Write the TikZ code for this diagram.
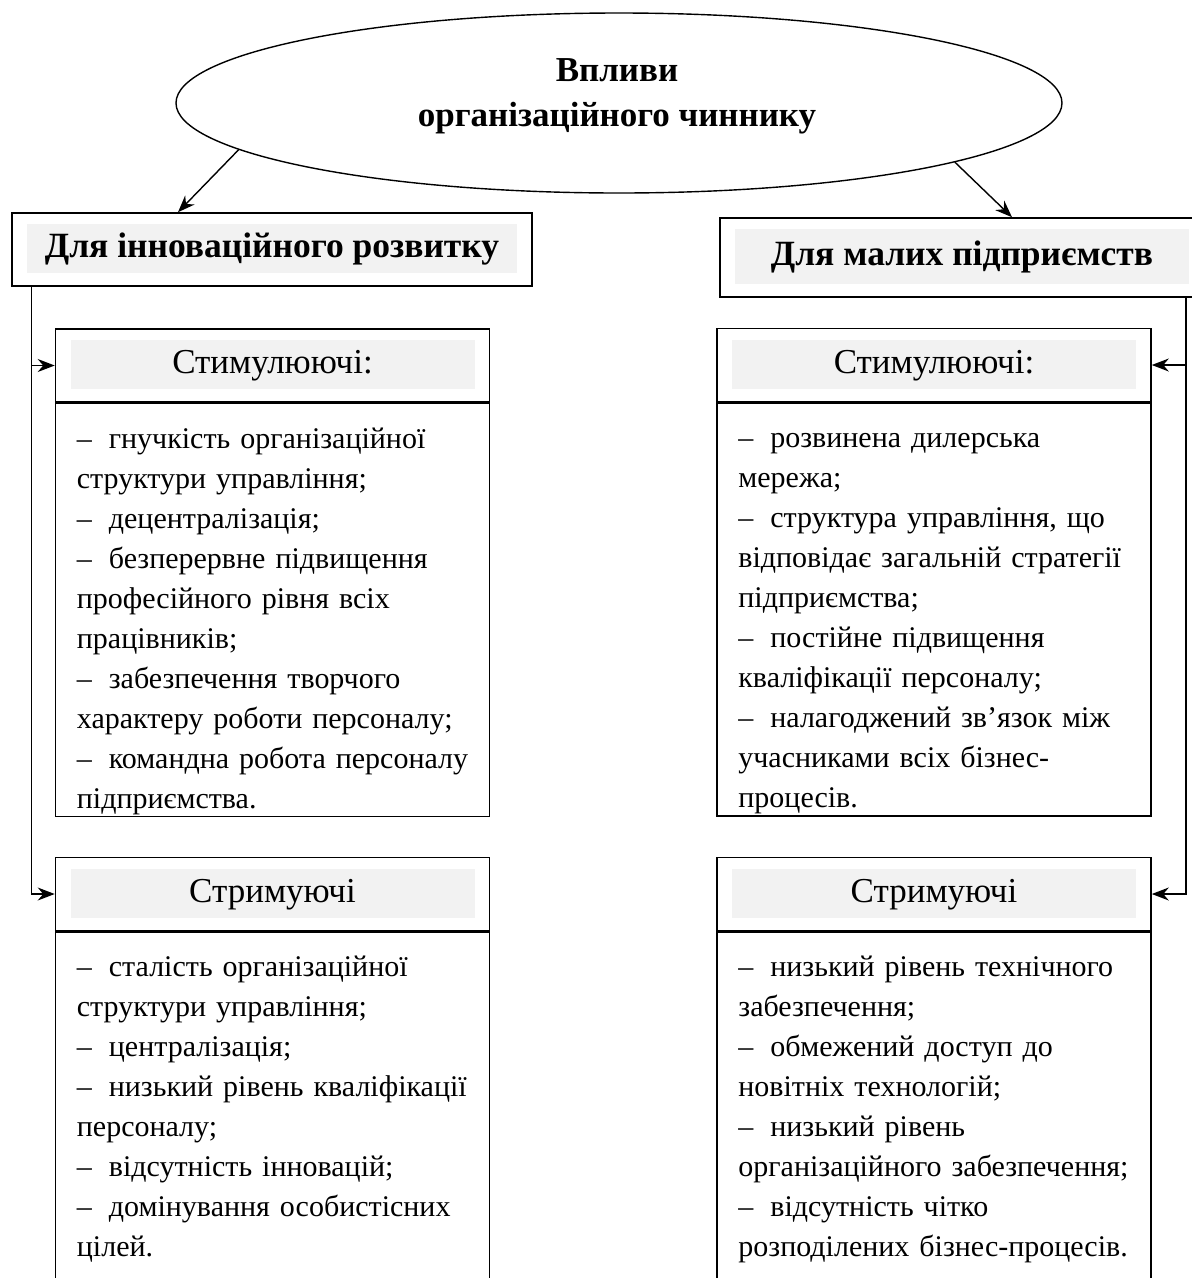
\documentclass[tikz,border=0pt]{standalone}
\usepackage{fontspec}
\setmainfont{Liberation Serif}
\usetikzlibrary{positioning,shapes.geometric,arrows.meta}

\tikzstyle{ramka} = [draw, line width=1.6pt, inner sep=0pt]
\tikzstyle{sirist} = [path picture={\fill[gray!10] ([shift={(15pt,-11pt)}]path picture bounding box.north west) rectangle ([shift={(-15pt,13pt)}]path picture bounding box.south east);}]
\tikzstyle{grupa} = [ramka, sirist, font=\bfseries\fontsize{35.5}{40}\selectfont]
\tikzstyle{vyd} = [ramka, sirist, minimum width=434pt, minimum height=73pt, font=\fontsize{35}{40}\selectfont]
\tikzstyle{spysok} = [anchor=north west, inner xsep=22pt, inner ysep=17pt, text width=440pt, align=left, font=\fontsize{30}{40}\selectfont]
\tikzstyle{strilka} = [line width=1.4pt, arrows={-Stealth[length=17pt,width=13pt]}]
\newcommand{\tyre}{\strut–\hspace{17pt}}

\begin{document}
\begin{tikzpicture}[x=1pt,y=-1pt]
    \useasboundingbox (0,0) rectangle (1192,1278);

    % Vplyvy
    \node[ellipse, draw, line width=1.4pt, minimum width=886pt, minimum height=180pt] (vplyvy) at (619,103) {};
    \node[align=center, font=\bfseries\fontsize{35}{45}\selectfont] (napys) at (617,96) {Впливи\\організаційного чиннику};

    % Grupy
    \node[grupa, minimum width=520pt, minimum height=73pt] (hdrL) at (272,249.5) {\strut Для інноваційного розвитку};
    \node[grupa, minimum width=484pt, minimum height=79pt] (hdrR) at (962,257.5) {\strut Для малих підприємств};

    % Liva storona
    \node[vyd] (stimL) at (272.5,365.5) {\strut Стимулюючі:};
    \node[ramka, minimum width=434pt, minimum height=413pt, below=0pt of stimL] (ramkaL1) {};
    \node[spysok] (spysokL1) at (ramkaL1.north west) {\tyre гнучкість організаційної\\структури управління;\\–\hspace{17pt}децентралізація;\\–\hspace{17pt}безперервне підвищення\\професійного рівня всіх\\працівників;\\–\hspace{17pt}забезпечення творчого\\характеру роботи персоналу;\\–\hspace{17pt}командна робота персоналу\\підприємства.};
    \node[vyd] (strL) at (272.5,894) {\strut Стримуючі};
    \node[ramka, minimum width=434pt, minimum height=347pt, below=0pt of strL] (ramkaL2) {};
    \node[spysok] (spysokL2) at (ramkaL2.north west) {\tyre сталість організаційної\\структури управління;\\–\hspace{17pt}централізація;\\–\hspace{17pt}низький рівень кваліфікації\\персоналу;\\–\hspace{17pt}відсутність інновацій;\\–\hspace{17pt}домінування особистісних\\цілей.};

    % Prava storona
    \node[vyd] (stimR) at (934,365) {\strut Стимулюючі:};
    \node[ramka, minimum width=434pt, minimum height=413pt, below=0pt of stimR] (ramkaR1) {};
    \node[spysok] (spysokR1) at (ramkaR1.north west) {\tyre розвинена дилерська\\мережа;\\–\hspace{17pt}структура управління, що\\відповідає загальній стратегії\\підприємства;\\–\hspace{17pt}постійне підвищення\\кваліфікації персоналу;\\–\hspace{17pt}налагоджений зв’язок між\\учасниками всіх бізнес-\\процесів.};
    \node[vyd] (strR) at (934,894) {\strut Стримуючі};
    \node[ramka, minimum width=434pt, minimum height=347pt, below=0pt of strR] (ramkaR2) {};
    \node[spysok] (spysokR2) at (ramkaR2.north west) {\tyre низький рівень технічного\\забезпечення;\\–\hspace{17pt}обмежений доступ до\\новітніх технологій;\\–\hspace{17pt}низький рівень\\організаційного забезпечення;\\–\hspace{17pt}відсутність чітко\\розподілених бізнес-процесів.};

    % Strilky
    \draw[strilka] (vplyvy.187) -- ([xshift=-94pt]hdrL.north);
    \draw[strilka] (vplyvy.350) -- ([xshift=50pt]hdrR.north);
    \coordinate (vL) at ([xshift=20pt]hdrL.south west);
    \coordinate (vR) at ([xshift=-19pt]hdrR.south east);
    \draw[strilka] (vL) |- (strL.west);
    \draw[strilka] (vL |- stimL.west) -- (stimL.west);
    \draw[strilka] (vR) |- (strR.east);
    \draw[strilka] (vR |- stimR.east) -- (stimR.east);
\end{tikzpicture}
\end{document}
